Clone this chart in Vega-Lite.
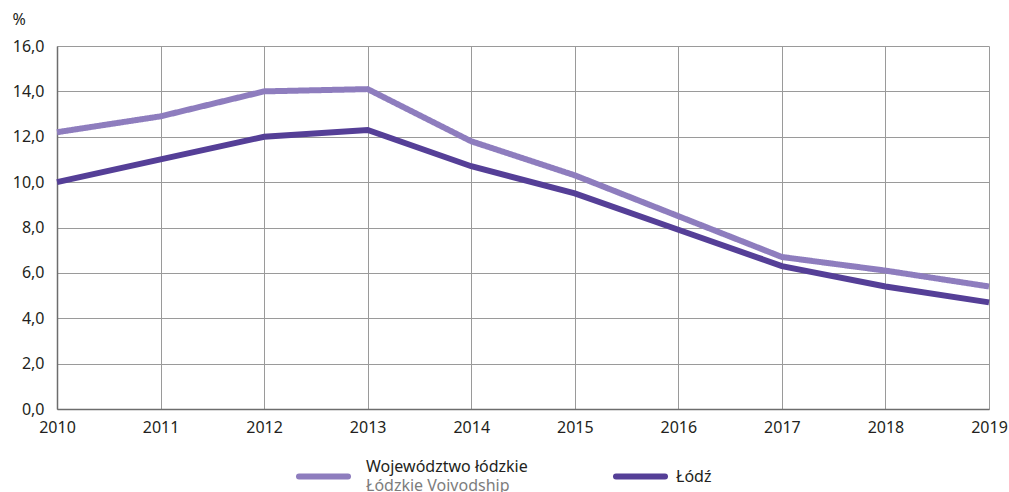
{
  "$schema": "https://vega.github.io/schema/vega-lite/v6.json",
  "width": 932,
  "height": 363,
  "autosize": {"type": "none"},
  "padding": {"left": 57, "top": 46, "right": 20, "bottom": 83},
  "background": "white",
  "config": {
    "font": "Noto Sans",
    "view": {"stroke": null},
    "axis": {"labelFont": "Noto Sans", "labelFontSize": 16, "labelColor": "#231f20", "gridColor": "#9a9a9a", "gridWidth": 1, "domainColor": "#6d6d6d", "domainWidth": 1.5, "ticks": false},
    "legend": {"labelFont": "Noto Sans", "labelFontSize": 16, "labelColor": "#231f20", "titleFont": "Noto Sans", "padding": 0}
  },
  "data": {
    "values": [
      {"year": 2010, "series": "Województwo łódzkie", "en": "Łódzkie Voivodship", "value": 12.2},
      {"year": 2011, "series": "Województwo łódzkie", "en": "Łódzkie Voivodship", "value": 12.9},
      {"year": 2012, "series": "Województwo łódzkie", "en": "Łódzkie Voivodship", "value": 14.0},
      {"year": 2013, "series": "Województwo łódzkie", "en": "Łódzkie Voivodship", "value": 14.1},
      {"year": 2014, "series": "Województwo łódzkie", "en": "Łódzkie Voivodship", "value": 11.8},
      {"year": 2015, "series": "Województwo łódzkie", "en": "Łódzkie Voivodship", "value": 10.3},
      {"year": 2016, "series": "Województwo łódzkie", "en": "Łódzkie Voivodship", "value": 8.5},
      {"year": 2017, "series": "Województwo łódzkie", "en": "Łódzkie Voivodship", "value": 6.7},
      {"year": 2018, "series": "Województwo łódzkie", "en": "Łódzkie Voivodship", "value": 6.1},
      {"year": 2019, "series": "Województwo łódzkie", "en": "Łódzkie Voivodship", "value": 5.4},
      {"year": 2010, "series": "Łódź", "en": "Łódź", "value": 10.0},
      {"year": 2011, "series": "Łódź", "en": "Łódź", "value": 11.0},
      {"year": 2012, "series": "Łódź", "en": "Łódź", "value": 12.0},
      {"year": 2013, "series": "Łódź", "en": "Łódź", "value": 12.3},
      {"year": 2014, "series": "Łódź", "en": "Łódź", "value": 10.7},
      {"year": 2015, "series": "Łódź", "en": "Łódź", "value": 9.5},
      {"year": 2016, "series": "Łódź", "en": "Łódź", "value": 7.9},
      {"year": 2017, "series": "Łódź", "en": "Łódź", "value": 6.3},
      {"year": 2018, "series": "Łódź", "en": "Łódź", "value": 5.4},
      {"year": 2019, "series": "Łódź", "en": "Łódź", "value": 4.7}
    ]
  },
  "encoding": {
    "x": {
      "field": "year", "type": "quantitative",
      "scale": {"domain": [2010, 2019], "nice": false, "zero": false},
      "axis": {"title": null, "values": [2010,2011,2012,2013,2014,2015,2016,2017,2018,2019], "format": "d", "labelPadding": 10, "grid": true, "labelFlush": false, "labelOverlap": false}
    },
    "y": {
      "field": "value", "type": "quantitative",
      "scale": {"domain": [0, 16], "nice": false},
      "axis": {
        "title": "%", "titleAngle": 0, "titleX": -45, "titleY": -22, "titleAlign": "left", "titleBaseline": "alphabetic",
        "titleFont": "Noto Sans", "titleFontSize": 16, "titleFontWeight": "normal", "titleColor": "#231f20",
        "values": [0,2,4,6,8,10,12,14,16], "labelPadding": 13, "grid": true,
        "labelExpr": "replace(format(datum.value, '.1f'), '.', ',')"
      }
    }
  },
  "layer": [
    {
      "transform": [{"filter": "datum.series == 'Województwo łódzkie'"}],
      "mark": {"type": "line", "strokeWidth": 6, "strokeJoin": "miter", "strokeCap": "butt"},
      "encoding": {
        "color": {
          "field": "series", "type": "nominal",
          "scale": {"domain": ["Województwo łódzkie"], "range": ["#8e7dbe"]},
          "legend": {
            "title": null, "orient": "none", "legendX": 239, "legendY": 403,
            "symbolType": "stroke", "symbolSize": 2401, "symbolStrokeWidth": 6,
            "labelExpr": "''", "labelOffset": 0,
            "encode": {"symbols": {"update": {"strokeCap": {"value": "round"}}}}
          }
        },
        "strokeDash": {
          "field": "en", "type": "nominal",
          "scale": {"domain": ["Łódzkie Voivodship"], "range": [[1, 0]]},
          "legend": {
            "title": "Województwo łódzkie", "orient": "none", "legendX": 309, "legendY": 413,
            "titleFontSize": 16, "titleFontWeight": "normal", "titleColor": "#231f20", "titleBaseline": "top", "titlePadding": 3,
            "symbolOpacity": 0, "symbolSize": 1, "symbolStrokeWidth": 0, "labelOffset": -16,
            "labelColor": "#7d7d7d", "labelFontSize": 16
          }
        }
      }
    },
    {
      "transform": [{"filter": "datum.series == 'Łódź'"}],
      "mark": {"type": "line", "strokeWidth": 6, "strokeJoin": "miter", "strokeCap": "butt"},
      "encoding": {
        "color": {
          "field": "series", "type": "nominal",
          "scale": {"domain": ["Łódź"], "range": ["#553f97"]},
          "legend": {
            "title": null, "orient": "none", "legendX": 556, "legendY": 403,
            "symbolType": "stroke", "symbolSize": 2401, "symbolStrokeWidth": 6,
            "labelOffset": 8,
            "encode": {"symbols": {"update": {"strokeCap": {"value": "round"}}}}
          }
        }
      }
    }
  ],
  "resolve": {"scale": {"color": "independent", "strokeDash": "independent"}, "legend": {"color": "independent"}}
}
